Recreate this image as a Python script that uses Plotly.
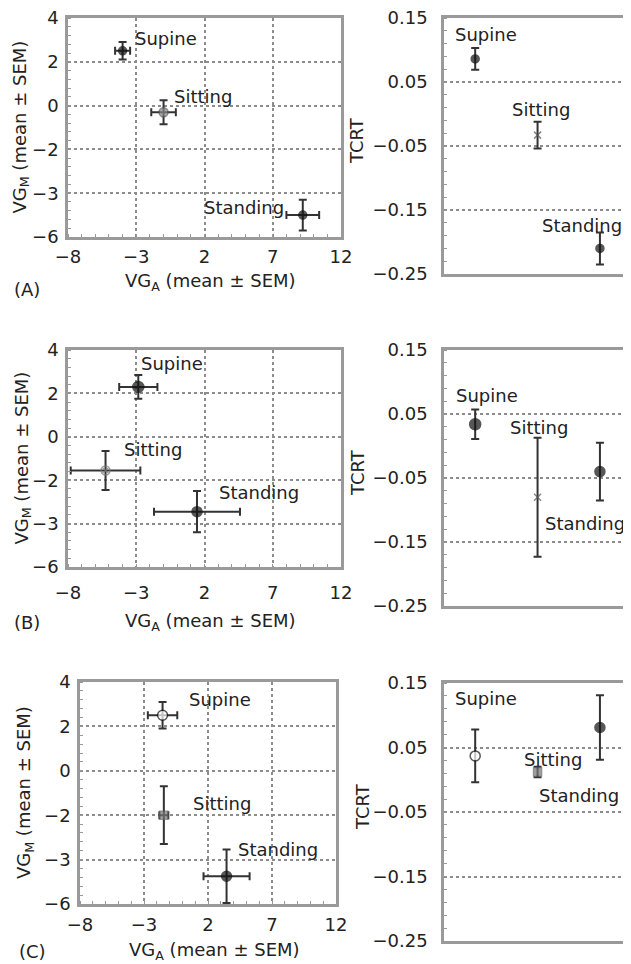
import plotly.graph_objects as go

# ---------------- data ----------------
positions = ["Supine", "Sitting", "Standing"]

A_vga = [-4.0, -1.0, 9.2]
A_vga_sem = [0.55, 0.9, 1.2]
A_vgm = [2.5, -0.3, -5.0]
A_vgm_sem = [0.4, 0.55, 0.7]
A_tcrt = [0.086, -0.033, -0.21]
A_tcrt_sem = [0.017, 0.021, 0.025]

B_vga = [-2.85, -5.25, 1.45]
B_vga_sem = [1.4, 2.55, 3.15]
B_vgm = [2.3, -1.55, -3.45]
B_vgm_sem = [0.55, 0.9, 0.95]
B_tcrt = [0.034, -0.08, -0.04]
B_tcrt_sem = [0.023, 0.093, 0.045]

C_vga = [-1.55, -1.45, 3.45]
C_vga_sem = [1.15, 0.35, 1.8]
C_vgm = [2.5, -2.0, -4.75]
C_vgm_sem = [0.6, 1.3, 1.2]
C_tcrt = [0.037, 0.012, 0.081]
C_tcrt_sem = [0.041, 0.008, 0.05]

vga_ticks = [-8, -3, 2, 7, 12]
vgm_tickvals = [4, 2, 0, -2, -4, -6]
vgm_ticktext = ["4", "2", "0", "\u22122", "\u22123", "\u22126"]
tcrt_tickvals = [0.15, 0.05, -0.05, -0.15, -0.25]
tcrt_ticktext = ["0.15", "0.05", "\u22120.05", "\u22120.15", "\u22120.25"]
panel_names = ["(A)", "(B)", "(C)"]

# ---------------- layout geometry (page pixels) ----------------
PAGE_W, PAGE_H = 631, 964
BODY = 8                       # default body margin of the html page
W, H = PAGE_W - BODY, PAGE_H - BODY
FONT = "DejaVu Sans"
FS = 18
TXT = "#222222"
FRAME = "#9a9a9a"
GRID = "#8c8c8c"

def px(x):
    return (x - BODY) / W

def py(y):
    return 1 - (y - BODY) / H

panels = [
    dict(lx=(68, 341), ly=(18, 237), rx=(444, 628), ry=(18, 274),
         vga=A_vga, vga_sem=A_vga_sem, vgm=A_vgm, vgm_sem=A_vgm_sem,
         tcrt=A_tcrt, tcrt_sem=A_tcrt_sem,
         lsym=["circle", "circle", "circle"], lcol=["#111", "#888", "#111"],
         lline=["#111", "#555", "#111"], lsize=[8, 9, 8],
         rsym=["circle", "x-thin-open", "circle"], rcol=["#111", "#555", "#111"],
         rline=["#111", "#555", "#111"], rsize=[8, 7, 8],
         xstand=10, xtitle_y=282, ytitle_x=20, rtitle_x=357, plab=(27, 290),
         llab=[("left", 10, 12), ("left", 8, 16), ("right", -17, 8)],
         rlab=[("center", 11, 24), ("center", 3, 26), ("center", -18, 23)]),
    dict(lx=(68, 341), ly=(350, 567), rx=(444, 628), ry=(350, 606),
         vga=B_vga, vga_sem=B_vga_sem, vgm=B_vgm, vgm_sem=B_vgm_sem,
         tcrt=B_tcrt, tcrt_sem=B_tcrt_sem,
         lsym=["circle", "circle-x-open", "circle"], lcol=["#111", "#777", "#111"],
         lline=["#111", "#777", "#111"], lsize=[11, 9, 10],
         rsym=["circle", "x-thin-open", "circle"], rcol=["#111", "#555", "#111"],
         rline=["#111", "#555", "#111"], rsize=[11, 7, 10],
         xstand=18, xtitle_y=622, ytitle_x=22, rtitle_x=358, plab=(27, 622),
         llab=[("left", 1, 23), ("left", 16, 21), ("left", 20, 19)],
         rlab=[("center", 12, 29), ("center", 1, 70), ("center", -15, -52)]),
    dict(lx=(80, 336), ly=(682, 904), rx=(444, 628), ry=(683, 941),
         vga=C_vga, vga_sem=C_vga_sem, vgm=C_vgm, vgm_sem=C_vgm_sem,
         tcrt=C_tcrt, tcrt_sem=C_tcrt_sem,
         lsym=["circle", "square", "circle"], lcol=["white", "#777", "#111"],
         lline=["#111", "#666", "#111"], lsize=[10, 8, 10],
         rsym=["circle", "square", "circle"], rcol=["white", "#777", "#111"],
         rline=["#111", "#666", "#111"], rsize=[10, 8, 10],
         xstand=13, xtitle_y=951, ytitle_x=25, rtitle_x=362, plab=(32, 951),
         llab=[("left", 24, 16), ("left", 27, 12), ("left", 9, 27)],
         rlab=[("center", 11, 57), ("center", 15, 13), ("center", -21, -68)]),
]

fig = go.Figure()
annotations = []
layout = dict(
    width=W, height=H,
    margin=dict(l=0, r=0, t=0, b=0, autoexpand=False),
    paper_bgcolor="white", plot_bgcolor="white",
    showlegend=False,
    font=dict(family=FONT, size=FS, color=TXT),
)

err_style = dict(color="#333333", thickness=2, width=4)

for i, p in enumerate(panels):
    lx_id = 2 * i + 1
    rx_id = 2 * i + 2
    lxa = "xaxis" if lx_id == 1 else f"xaxis{lx_id}"
    lya = "yaxis" if lx_id == 1 else f"yaxis{lx_id}"
    rxa = f"xaxis{rx_id}"
    rya = f"yaxis{rx_id}"
    lxr = "x" if lx_id == 1 else f"x{lx_id}"
    lyr = "y" if lx_id == 1 else f"y{lx_id}"
    rxr = f"x{rx_id}"
    ryr = f"y{rx_id}"

    # left scatter
    fig.add_trace(go.Scatter(
        x=p["vga"], y=p["vgm"], mode="markers",
        error_x=dict(type="data", array=p["vga_sem"], **err_style),
        error_y=dict(type="data", array=p["vgm_sem"], **err_style),
        marker=dict(symbol=p["lsym"], color=p["lcol"], size=p["lsize"],
                    line=dict(color=p["lline"], width=1.5)),
        xaxis=lxr, yaxis=lyr, cliponaxis=False,
    ))
    # right TCRT
    fig.add_trace(go.Scatter(
        x=positions, y=p["tcrt"], mode="markers",
        error_y=dict(type="data", array=p["tcrt_sem"], **err_style),
        marker=dict(symbol=p["rsym"], color=p["rcol"], size=p["rsize"],
                    line=dict(color=p["rline"], width=1.5)),
        xaxis=rxr, yaxis=ryr,
    ))

    layout[lxa] = dict(
        domain=[px(p["lx"][0]), px(p["lx"][1])], anchor=lyr, automargin=False,
        range=[-8, 12], tickmode="array", tickvals=vga_ticks,
        ticks="", ticklabelstandoff=p["xstand"] - 10 if p["xstand"] > 10 else 2,
        ticklabeloverflow="allow",
        showline=True, mirror=True, linecolor=FRAME, linewidth=2.5,
        showgrid=True, gridcolor=GRID, griddash="dot", gridwidth=2,
        zeroline=False,
        minor=dict(ticks="inside", ticklen=3, tickcolor="#999", tickmode="linear",
                   tick0=-8, dtick=1, showgrid=False),
        tickfont=dict(family=FONT, size=FS, color=TXT),
    )
    layout[lya] = dict(
        domain=[py(p["ly"][1]), py(p["ly"][0])], anchor=lxr, automargin=False,
        range=[-6, 4], tickmode="array", tickvals=vgm_tickvals, ticktext=vgm_ticktext,
        ticks="", ticklabelstandoff=3, ticklabeloverflow="allow",
        showline=True, mirror=True, linecolor=FRAME, linewidth=2.5,
        showgrid=True, gridcolor=GRID, griddash="dot", gridwidth=2,
        zeroline=False,
        minor=dict(ticks="inside", ticklen=3, tickcolor="#999", tickmode="linear",
                   tick0=-6, dtick=0.4, showgrid=False),
        tickfont=dict(family=FONT, size=FS, color=TXT),
    )
    layout[rxa] = dict(
        domain=[px(p["rx"][0]), px(p["rx"][1])], anchor=ryr, automargin=False,
        type="category", categoryorder="array", categoryarray=positions,
        range=[-0.5, 2.45], showticklabels=False, ticks="",
        showline=True, mirror=True, linecolor=FRAME, linewidth=2.5,
        showgrid=False, zeroline=False,
    )
    layout[rya] = dict(
        domain=[py(p["ry"][1]), py(p["ry"][0])], anchor=rxr, automargin=False,
        range=[-0.25, 0.15], tickmode="array", tickvals=tcrt_tickvals,
        ticktext=tcrt_ticktext, ticks="", ticklabelstandoff=10,
        ticklabeloverflow="allow",
        showline=True, mirror=True, linecolor=FRAME, linewidth=2.5,
        showgrid=True, gridcolor=GRID, griddash="dot", gridwidth=2,
        zeroline=False,
        minor=dict(ticks="inside", ticklen=3, tickcolor="#999", tickmode="linear",
                   tick0=-0.25, dtick=0.02, showgrid=False),
        tickfont=dict(family=FONT, size=FS, color=TXT),
    )

    # point labels
    for j, name in enumerate(positions):
        anc, xs, ys = p["llab"][j]
        annotations.append(dict(
            x=p["vga"][j], y=p["vgm"][j], xref=lxr, yref=lyr, text=name,
            showarrow=False, xanchor=anc, yanchor="middle", xshift=xs, yshift=ys,
            font=dict(family=FONT, size=FS, color=TXT)))
        anc, xs, ys = p["rlab"][j]
        annotations.append(dict(
            x=positions[j], y=p["tcrt"][j], xref=rxr, yref=ryr, text=name,
            showarrow=False, xanchor=anc, yanchor="middle", xshift=xs, yshift=ys,
            font=dict(family=FONT, size=FS, color=TXT)))

    # axis titles
    lcx = (p["lx"][0] + p["lx"][1]) / 2 + 6
    annotations.append(dict(
        x=px(lcx), y=py(p["xtitle_y"]), xref="paper", yref="paper",
        text="VG<sub>A</sub> (mean \u00b1 SEM)", showarrow=False,
        xanchor="center", yanchor="middle", font=dict(family=FONT, size=FS, color=TXT)))
    annotations.append(dict(
        x=px(p["ytitle_x"]), y=py((p["ly"][0] + p["ly"][1]) / 2), xref="paper", yref="paper",
        text="VG<sub>M</sub> (mean \u00b1 SEM)", showarrow=False, textangle=-90,
        xanchor="center", yanchor="middle", font=dict(family=FONT, size=FS, color=TXT)))
    annotations.append(dict(
        x=px(p["rtitle_x"]), y=py((p["ry"][0] + p["ry"][1]) / 2 - 5), xref="paper", yref="paper",
        text="TCRT", showarrow=False, textangle=-90,
        xanchor="center", yanchor="middle", font=dict(family=FONT, size=FS, color=TXT)))
    annotations.append(dict(
        x=px(p["plab"][0]), y=py(p["plab"][1]), xref="paper", yref="paper",
        text=panel_names[i], showarrow=False,
        xanchor="center", yanchor="middle", font=dict(family=FONT, size=FS, color=TXT)))

layout["annotations"] = annotations
fig.update_layout(**layout)
fig.write_html("out.html")
